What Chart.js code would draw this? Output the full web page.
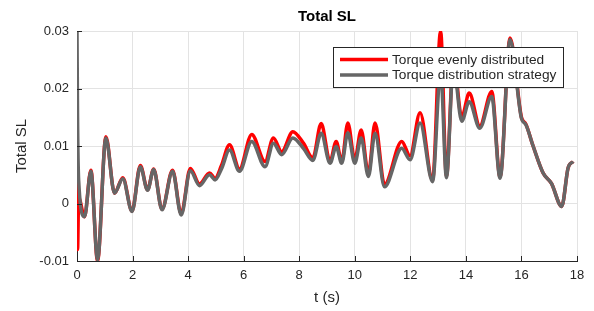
<!DOCTYPE html>
<html>
<head>
<meta charset="utf-8">
<script src="https://cdn.jsdelivr.net/npm/chart.js@4/dist/chart.umd.min.js"></script>
<style>
  body { margin: 0; background: #fff; }
  canvas { display: block; }
</style>
</head>
<body>
<canvas id="myChart" width="594" height="311"></canvas>
<script>
// time (s)
const tValues = [0.00, 0.02, 0.06, 0.27, 0.50, 0.74, 1.04, 1.35, 1.65, 1.98,
  2.28, 2.54, 2.76, 3.06, 3.44, 3.75, 4.08, 4.41, 4.77, 4.97,
  5.20, 5.49, 5.85, 6.29, 6.77, 7.07, 7.37, 7.77, 8.15, 8.49,
  8.79, 9.11, 9.33, 9.53, 9.75, 10.00, 10.23, 10.49, 10.73, 11.07,
  11.69, 11.99, 12.35, 12.80, 13.09, 13.30, 13.55, 13.85, 14.12, 14.50,
  14.93, 15.23, 15.59, 16.00, 16.16, 16.42, 16.78, 17.08, 17.45, 17.68, 17.86];

// Torque evenly distributed
const evenSL = [0.0170, -0.0080, 0.0010, -0.0023, 0.0058, -0.0100, 0.0116, 0.0018, 0.0045, -0.0013,
  0.0066, 0.0024, 0.0060, -0.0010, 0.0058, -0.0018, 0.0061, 0.0034, 0.0053, 0.0044,
  0.0066, 0.0102, 0.0060, 0.0120, 0.0073, 0.0114, 0.0090, 0.0125, 0.0105, 0.0079,
  0.0139, 0.0073, 0.0108, 0.0073, 0.0140, 0.0076, 0.0128, 0.0052, 0.0140, 0.0033,
  0.0108, 0.0083, 0.0158, 0.0040, 0.0300, 0.0047, 0.0250, 0.0150, 0.0192, 0.0135,
  0.0195, 0.0046, 0.0288, 0.0150, 0.0138, 0.0100, 0.0053, 0.0035, -0.0005, 0.0062, 0.0073];

// Torque distribution strategy
const strategySL = [0.0300, 0.0150, 0.0040, -0.0023, 0.0056, -0.0098, 0.0114, 0.0018, 0.0043, -0.0014,
  0.0064, 0.0023, 0.0059, -0.0011, 0.0056, -0.0020, 0.0057, 0.0031, 0.0050, 0.0041,
  0.0060, 0.0093, 0.0056, 0.0108, 0.0064, 0.0105, 0.0085, 0.0114, 0.0096, 0.0075,
  0.0122, 0.0070, 0.0099, 0.0070, 0.0123, 0.0070, 0.0114, 0.0047, 0.0122, 0.0029,
  0.0096, 0.0076, 0.0140, 0.0038, 0.0230, 0.0045, 0.0240, 0.0143, 0.0177, 0.0131,
  0.0186, 0.0044, 0.0285, 0.0148, 0.0137, 0.0100, 0.0053, 0.0035, -0.0005, 0.0062, 0.0073];

const seriesNames = ['Torque evenly distributed', 'Torque distribution strategy'];
const seriesColors = ['#ff0000', '#666666'];

const axisColor = '#262626';
const fontFamily = '"Liberation Sans", Arial, sans-serif';

function toPoints(values) {
  return tValues.map((t, i) => ({ x: t, y: values[i] }));
}

// MATLAB style ticks pointing into the axes
const innerTicks = {
  id: 'innerTicks',
  afterDatasetsDraw(chart) {
    const c = chart.ctx;
    const xs = chart.scales.x, ys = chart.scales.y;
    const area = chart.chartArea;
    c.save();
    c.strokeStyle = axisColor;
    c.lineWidth = 1;
    c.beginPath();
    xs.ticks.forEach(tk => {
      const px = Math.round(xs.getPixelForValue(tk.value)) + 0.5;
      c.moveTo(px, area.bottom);
      c.lineTo(px, area.bottom - 5);
    });
    ys.ticks.forEach(tk => {
      const py = Math.round(ys.getPixelForValue(tk.value)) + 0.5;
      c.moveTo(area.left, py);
      c.lineTo(area.left + 5, py);
    });
    c.stroke();
    c.restore();
  }
};

// legend box in the upper right corner of the axes
const boxLegend = {
  id: 'boxLegend',
  afterDraw(chart) {
    const c = chart.ctx;
    const area = chart.chartArea;
    const w = 230, h = 40;
    const x0 = area.right - 14 - w, y0 = area.top + 16;
    c.save();
    c.fillStyle = '#fff';
    c.fillRect(x0, y0, w, h);
    c.strokeStyle = axisColor;
    c.lineWidth = 1;
    c.strokeRect(Math.round(x0) + 0.5, Math.round(y0) + 0.5, w, h);
    c.font = '13.7px ' + fontFamily;
    c.textBaseline = 'middle';
    chart.data.datasets.forEach((ds, i) => {
      const ly = y0 + 12.5 + i * 15.5;
      c.strokeStyle = ds.borderColor;
      c.lineWidth = 3.5;
      c.beginPath();
      c.moveTo(x0 + 7, ly);
      c.lineTo(x0 + 55, ly);
      c.stroke();
      c.fillStyle = axisColor;
      c.fillText(ds.label, x0 + 59, ly + 0.5);
    });
    c.restore();
  }
};

const ctx = document.getElementById('myChart');

const chart = new Chart(ctx, {
  type: 'line',
  data: {
    datasets: [
      {
        label: seriesNames[0],
        data: toPoints(evenSL),
        borderColor: seriesColors[0],
        borderWidth: 3.5,
        pointRadius: 0,
        order: 2,
        cubicInterpolationMode: 'monotone'
      },
      {
        label: seriesNames[1],
        data: toPoints(strategySL),
        borderColor: seriesColors[1],
        borderWidth: 3.5,
        pointRadius: 0,
        order: 1,
        cubicInterpolationMode: 'monotone'
      }
    ]
  },
  options: {
    responsive: false,
    animation: false,
    devicePixelRatio: 1,
    layout: { padding: { left: 0, right: 17, top: 0, bottom: 0 } },
    plugins: {
      legend: { display: false },
      tooltip: { enabled: false },
      title: {
        display: true,
        text: 'Total SL',
        fullSize: false,
        color: '#000',
        font: { family: fontFamily, size: 15, weight: 'bold' },
        padding: { top: 8, bottom: 5 }
      }
    },
    scales: {
      x: {
        type: 'linear',
        min: 0,
        max: 18,
        afterFit: s => { s.height = 50; },
        ticks: {
          stepSize: 2,
          padding: 7,
          color: axisColor,
          font: { family: fontFamily, size: 13 },
          maxRotation: 0
        },
        grid: { color: '#e3e3e3', drawTicks: false },
        border: { color: axisColor, width: 1 },
        title: {
          display: true,
          text: 't (s)',
          color: axisColor,
          font: { family: fontFamily, size: 15 },
          padding: { top: 0, bottom: 4 }
        }
      },
      y: {
        min: -0.01,
        max: 0.03,
        afterFit: s => { s.width = 77; },
        ticks: {
          stepSize: 0.01,
          padding: 8,
          color: axisColor,
          font: { family: fontFamily, size: 13 },
          callback: v => Math.abs(v) < 1e-9 ? '0' : v.toFixed(2)
        },
        grid: { color: '#e3e3e3', drawTicks: false },
        border: { color: axisColor, width: 1 },
        title: {
          display: true,
          text: 'Total SL',
          color: axisColor,
          font: { family: fontFamily, size: 15 },
          padding: { top: 13, bottom: 0 }
        }
      }
    }
  },
  plugins: [innerTicks, boxLegend]
});
</script>
</body>
</html>
